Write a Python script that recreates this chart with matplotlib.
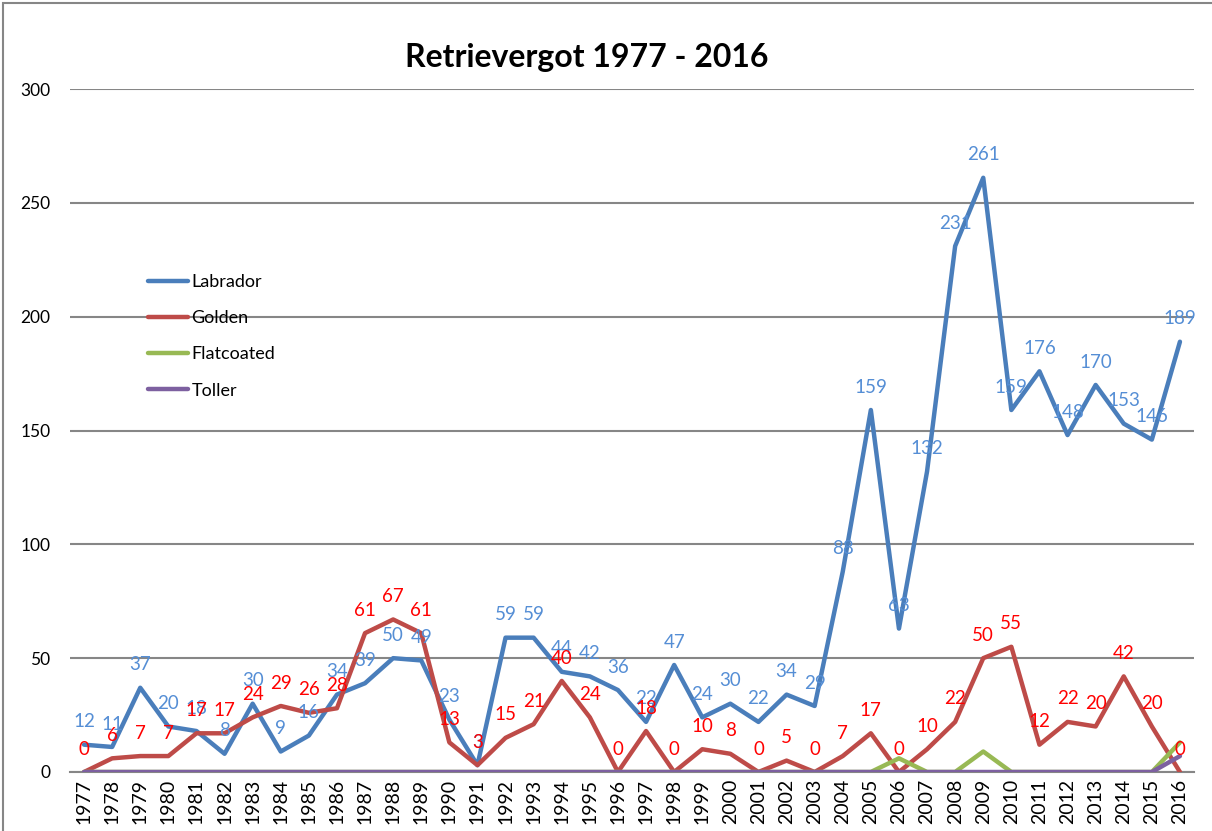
import matplotlib
matplotlib.use("Agg")
import matplotlib.pyplot as plt
from matplotlib.patches import Rectangle

years = list(range(1977, 2017))
labrador = [12, 11, 37, 20, 18, 8, 30, 9, 16, 34, 39, 50, 49, 23, 3, 59, 59, 44, 42, 36,
            22, 47, 24, 30, 22, 34, 29, 88, 159, 63, 132, 231, 261, 159, 176, 148, 170, 153, 146, 189]
golden = [0, 6, 7, 7, 17, 17, 24, 29, 26, 28, 61, 67, 61, 13, 3, 15, 21, 40, 24, 0,
          18, 0, 10, 8, 0, 5, 0, 7, 17, 0, 10, 22, 50, 55, 12, 22, 20, 42, 20, 0]
flatcoated = [0] * 28 + [0, 6, 0, 0, 9, 0, 0, 0, 0, 0, 0, 13]
toller = [0] * 39 + [7]
series_names = ["Labrador", "Golden", "Flatcoated", "Toller"]
title = "Retrievergot 1977 - 2016"
yticks = [0, 50, 100, 150, 200, 250, 300]

line_colors = ["#4A7EBB", "#BE4B48", "#98B954", "#7D60A0"]
label_colors = {"Labrador": "#558ED5", "Golden": "#FF0000"}

plt.rcParams['font.family'] = ['Lato', 'DejaVu Sans']

W, H = 1212, 831
fig = plt.figure(figsize=(W / 100, H / 100), dpi=100)
fig.patches.append(Rectangle((3 / W, -0.1), 1.2, (H - 3) / H + 0.1, transform=fig.transFigure,
                             fill=False, edgecolor="#868686", linewidth=1.5))

left, right = 70, 1194
top, bottom = 89, 772
ax = fig.add_axes([left / W, (H - bottom) / H, (right - left) / W, (bottom - top) / H])

x = list(range(len(years)))
data = [labrador, golden, flatcoated, toller]
for name, vals, c in zip(series_names, data, line_colors):
    ax.plot(x, vals, color=c, lw=3.2, solid_joinstyle='round', solid_capstyle='round',
            label=name, zorder=3)

for name, vals, z in [("Labrador", labrador, 5), ("Golden", golden, 6)]:
    for xi, v in zip(x, vals):
        ax.annotate(str(v), (xi, v), xytext=(0, 16.5), textcoords='offset points',
                    ha='center', va='center', color=label_colors[name], fontsize=13.5,
                    zorder=z, annotation_clip=False)

ax.set_xlim(-0.5, len(years) - 0.5)
ax.set_ylim(0, 300)
ax.set_yticks(yticks)
ax.set_xticks(x)
ax.set_xticklabels([str(y) for y in years], rotation=90, fontsize=14)
ax.tick_params(axis='y', length=0, pad=14, labelsize=12.5)
ax.tick_params(axis='x', length=0, pad=5)
ax.grid(axis='y', color="#868686", lw=1.5, zorder=1)
for s in ["top", "right", "left"]:
    ax.spines[s].set_visible(False)
ax.spines["bottom"].set_color("#868686")
ax.spines["bottom"].set_linewidth(1.5)
ax.set_axisbelow(True)

leg = ax.legend(loc='upper left',
                bbox_to_anchor=((148 - left) / (right - left), (bottom - 274) / (bottom - top)),
                frameon=False, fontsize=13, handlelength=2.2, handletextpad=0.2,
                labelspacing=1.12, borderaxespad=0, borderpad=0)

fig.text(587 / W, 1 - 58 / H, title, ha='center', va='center', fontsize=23, fontweight='bold',
         family=['Lato', 'DejaVu Sans'])

fig.savefig("out.png", dpi=100)
